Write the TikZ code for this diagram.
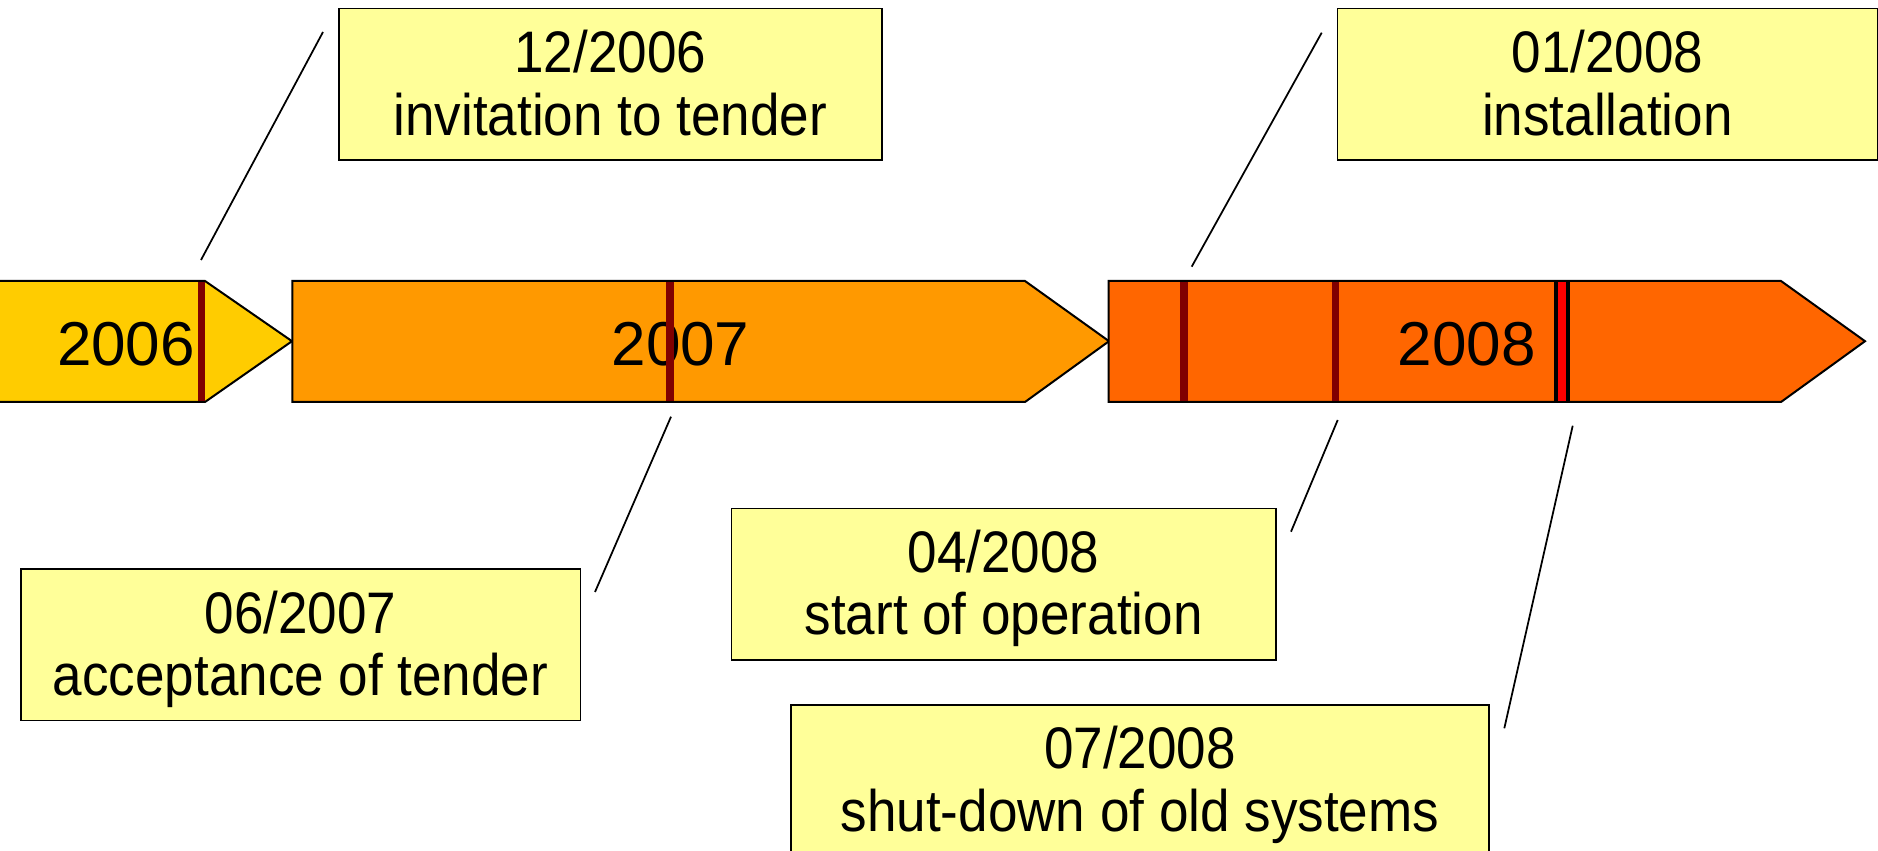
\documentclass[tikz,border=0pt]{standalone}
\usepackage{fontspec}
\setmainfont{Liberation Sans}
\usepackage{graphicx}

\definecolor{yearA}{HTML}{FFCC00}
\definecolor{yearB}{HTML}{FF9900}
\definecolor{yearC}{HTML}{FF6600}
\definecolor{notefill}{HTML}{FFFF99}
\definecolor{markdark}{HTML}{800000}
\definecolor{markred}{HTML}{FF0000}

% two-line caption of a milestone box
\newcommand{\milestone}[2]{\scalebox{0.905}[1]{\begin{tabular}[t]{@{}c@{}}#1\\#2\end{tabular}}}

\begin{document}
\begin{tikzpicture}[x=0.4pt,y=-0.4pt,
  yeararrow/.style={draw=black, line width=0.8pt, line join=miter},
  yearlabel/.style={anchor=base, inner sep=0pt, font=\fontsize{24.8pt}{28pt}\selectfont},
  note/.style={draw=black, line width=0.6pt, fill=notefill, inner sep=0pt,
    anchor=north west, text height=25.6pt, text depth=35pt,
    font=\fontsize{23.44pt}{25pt}\selectfont},
  callout/.style={draw=black, line width=0.7pt},
  marker/.style={draw=markdark, line width=3.1pt},
]
\useasboundingbox (0,0) rectangle (1878,851);
\clip (0,0) rectangle (1878,851);

% year arrows
\draw[yeararrow, fill=yearA] (-20,281) -- (205,281) -- (292,341.2) -- (205,402) -- (-20,402) -- cycle;
\draw[yeararrow, fill=yearB] (292.3,281) -- (1025,281) -- (1109,341.2) -- (1025,402) -- (292.3,402) -- cycle;
\draw[yeararrow, fill=yearC] (1108.5,281) -- (1781,281) -- (1865,341.2) -- (1781,402) -- (1108.5,402) -- cycle;

\node[yearlabel] (y2006) at (126,366) {2006};
\node[yearlabel] (y2007) at (680.5,366) {2007};
\node[yearlabel] (y2008) at (1466.6,366) {2008};

% milestone markers on the time line
\draw[marker] (201.5,282) -- (201.5,401);
\draw[marker] (670,282) -- (670,401);
\draw[marker] (1184,282) -- (1184,401);
\draw[marker] (1335.5,282) -- (1335.5,401);
\draw[draw=black, line width=6.4pt] (1562,282) -- (1562,401);
\draw[draw=markred, line width=3.2pt] (1562,282) -- (1562,401);

% milestone boxes
\node[note, minimum width=217.2pt, minimum height=60.6pt] (n1) at (338,8)
  {\milestone{12/2006}{invitation to tender}};
\node[note, minimum width=216pt, minimum height=60.6pt] (n2) at (1336.7,8)
  {\milestone{01/2008}{installation}};
\node[note, minimum width=223.8pt, minimum height=60.6pt] (n3) at (20,568.3)
  {\milestone{06/2007}{acceptance of tender}};
\node[note, minimum width=217.8pt, minimum height=60.6pt] (n4) at (730.6,507.5)
  {\milestone{04/2008}{start of operation}};
\node[note, minimum width=279.3pt, minimum height=60.6pt] (n5) at (790,704)
  {\milestone{07/2008}{shut-down of old systems}};

% callout lines
\coordinate (c1a) at (201,260);    \coordinate (c1b) at (323,32);
\coordinate (c2a) at (1191.7,266.7); \coordinate (c2b) at (1321.7,32.7);
\coordinate (c3a) at (671,416.7);  \coordinate (c3b) at (595,592);
\coordinate (c4a) at (1337.7,420); \coordinate (c4b) at (1291,531.7);
\coordinate (c5a) at (1572.7,425.7); \coordinate (c5b) at (1504.3,728.3);
\draw[callout] (c1a) -- (c1b);
\draw[callout] (c2a) -- (c2b);
\draw[callout] (c3a) -- (c3b);
\draw[callout] (c4a) -- (c4b);
\draw[callout] (c5a) -- (c5b);
\end{tikzpicture}
\end{document}
